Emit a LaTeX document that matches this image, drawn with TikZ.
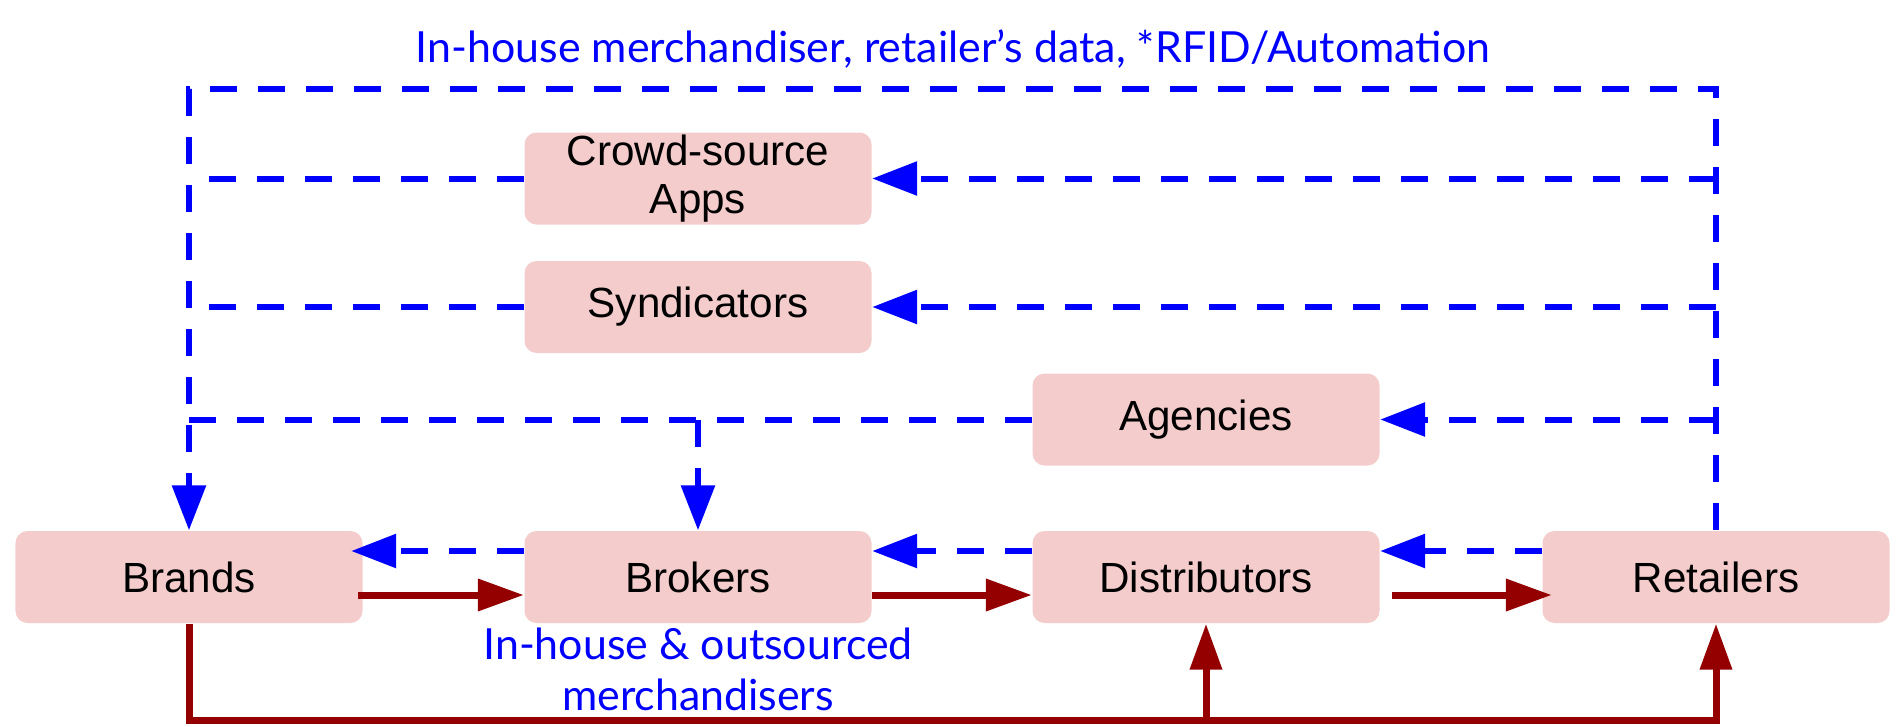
\documentclass[tikz,border=0pt]{standalone}
\usepackage{fontspec}
\usepackage{xcolor}
\usetikzlibrary{arrows.meta}
\setmainfont{Liberation Sans}
\newfontfamily\latofont{Lato}
\definecolor{boxpink}{RGB}{244,204,204}
\definecolor{goodsred}{RGB}{148,0,0}

\begin{document}
\begin{tikzpicture}[scale=1,
            box/.style={fill=boxpink,rounded corners=0.12cm,minimum width=3.47cm,minimum height=0.92cm,inner sep=0pt,align=center,font=\fontsize{12}{13.8}\selectfont},
            info/.style={blue,line width=0.06cm,dash pattern=on 0.27cm off 0.21cm,-{Triangle[length=0.45cm,width=0.33cm]}},
            infoline/.style={blue,line width=0.06cm,dash pattern=on 0.27cm off 0.21cm},
            goods/.style={goodsred,line width=0.07cm,-{Triangle[length=0.46cm,width=0.31cm]}},
            note/.style={blue,font=\latofont\fontsize{12.2}{14.5}\selectfont,align=center}]
            \useasboundingbox (0,0) rectangle (19.04,7.26);
            \node (bra) at (1.89,1.49) [box] {Brands};
            \node (bro) at (6.98,1.49) [box] {Brokers};
            \node (dis) at (12.06,1.49) [box] {Distributors};
            \node (ret) at (17.16,1.49) [box] {Retailers};
            \node (crowd) at (6.98,5.475) [box] {Crowd-source\\Apps};
            \node (syn) at (6.98,4.19) [box] {Syndicators};
            \node (age) at (12.06,3.065) [box] {Agencies};
            \node (title) at (9.53,6.77) [note] {In-house merchandiser, retailer’s data, *RFID/Automation};
            \node (merch) at (6.98,0.57) [note] {In-house \& outsourced\\merchandisers};
            \coordinate (top) at (0,6.37);
            \coordinate (bot) at (0,0.06);
            \draw[info] (ret.north) -- (ret.north |- top) -- (bra.north |- top) -- (bra.north);
            \draw[info] (ret.north |- crowd) -- (crowd.east);
            \draw[infoline] (crowd.west) -- (bra.north |- crowd);
            \draw[info] (ret.north |- syn) -- (syn.east);
            \draw[infoline] (syn.west) -- (bra.north |- syn);
            \draw[info] (ret.north |- age) -- (age.east);
            \draw[infoline] (age.west) -- (bra.north |- age);
            \draw[info] (bro.north |- age) -- (bro.north);
            \draw[info] ([yshift=0.26cm]ret.west) -- ([yshift=0.26cm]dis.east);
            \draw[info] ([yshift=0.26cm]dis.west) -- ([yshift=0.26cm]bro.east);
            \draw[info] ([yshift=0.26cm]bro.west) -- ([xshift=-0.12cm,yshift=0.26cm]bra.east);
            \draw[goods] ([xshift=-0.05cm,yshift=-0.18cm]bra.east) -- ([yshift=-0.18cm]bro.west);
            \draw[goods] ([yshift=-0.18cm]bro.east) -- ([yshift=-0.18cm]dis.west);
            \draw[goods] ([xshift=0.12cm,yshift=-0.18cm]dis.east) -- ([xshift=0.1cm,yshift=-0.18cm]ret.west);
            \draw[goods] (bra.south) |- (ret.south |- bot) -- (ret.south);
            \draw[goods] (dis.south |- bot) -- (dis.south);
        \end{tikzpicture}
\end{document}
